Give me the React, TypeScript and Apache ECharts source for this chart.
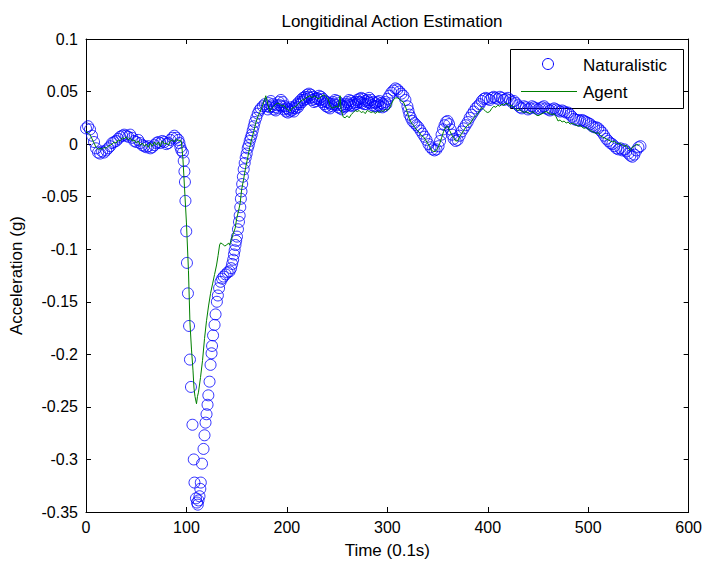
import React, { useEffect, useRef } from "react";
import * as echarts from "echarts";

const titleText = "Longitidinal Action Estimation";
const xLabel = "Time (0.1s)";
const yLabel = "Acceleration (g)";
const seriesNames = ["Naturalistic", "Agent"];
const xTicks = [0, 100, 200, 300, 400, 500, 600];
const yTicks = [-0.35, -0.3, -0.25, -0.2, -0.15, -0.1, -0.05, 0, 0.05, 0.1];

const naturalistic: [number, number][] = [
  [0,0.015],[2,0.017],[4,0.014],[6,0.008],[8,0.002],[10,-0.004],[12,-0.008],[14,-0.009],[16,-0.007],[18,-0.008],
  [20,-0.006],[22,-0.004],[24,-0.002],[26,0.001],[28,0.002],[30,0.003],[32,0.005],[34,0.007],[36,0.008],[38,0.009],
  [40,0.008],[42,0.007],[44,0.009],[46,0.006],[48,0.003],[50,0.002],[52,0.004],[54,0.001],[56,-0.001],[58,-0.002],
  [60,-0.003],[62,-0.002],[64,-0.004],[66,-0.003],[68,-0.001],[70,0.001],[72,0.002],[74,0.001],[76,0.003],[78,0.002],
  [80,0.0],[82,0.001],[84,0.004],[86,0.006],[88,0.008],[90,0.006],[92,0.004],[93,0.001],[94,-0.003],[95,-0.006],
  [96.5,-0.008],[97.3,-0.016],[98,-0.026],[98.5,-0.036],[99,-0.054],[99.8,-0.083],[100.5,-0.113],[101.5,-0.142],
  [102.6,-0.173],[103.5,-0.205],[104.5,-0.231],[106,-0.267],[107.3,-0.3],[108,-0.322],[109.5,-0.337],[110.5,-0.341],
  [111.3,-0.343],[112,-0.339],[113,-0.335],[113.8,-0.328],[114.3,-0.322],[115.5,-0.304],[117,-0.29],[118,-0.277],
  [119,-0.265],[120,-0.257],[121,-0.248],[121.8,-0.239],[123,-0.226],[124,-0.21],[125,-0.199],[125.5,-0.192],
  [126.5,-0.182],[128,-0.172],[129,-0.162],[130.3,-0.15],[131.3,-0.144],[132.5,-0.137],[134,-0.131],[135.5,-0.128],
  [137,-0.126],[139,-0.124],[141,-0.122],[143,-0.121],[144.5,-0.118],[145.5,-0.114],[146.5,-0.11],[147.3,-0.105],
  [148,-0.101],[148.8,-0.096],[149.5,-0.092],[150.3,-0.088],[151.3,-0.081],[152.3,-0.074],[153,-0.068],[153.6,-0.06],
  [154.2,-0.052],[154.8,-0.045],[155.5,-0.038],[156.2,-0.031],[157,-0.024],[158,-0.018],[159,-0.013],[160,-0.009],
  [161,-0.004],[162,-0.001],[163,0.003],[164,0.006],[165,0.009],[166,0.013],[167,0.017],[168,0.021],[169.5,0.025],
  [171,0.029],[172.5,0.032],[174,0.034],[176,0.036],[178,0.038],
  [180,0.036],[182,0.039],[184,0.041],[186,0.038],[188,0.035],[190,0.037],[192,0.04],[194,0.042],[196,0.04],[198,0.036],
  [200,0.034],[202,0.033],[204,0.035],[206,0.034],[208,0.036],[210,0.038],[212,0.04],[214,0.042],[216,0.044],[218,0.045],
  [220,0.047],[222,0.048],[224,0.047],[226,0.045],[228,0.043],[230,0.044],[232,0.046],[234,0.045],[236,0.043],[238,0.041],
  [240,0.04],[242,0.039],[244,0.038],[246,0.04],[248,0.042],[250,0.041],[252,0.039],[254,0.037],[256,0.036],[258,0.038],
  [260,0.04],[262,0.042],[264,0.041],[266,0.039],[268,0.04],[270,0.042],[272,0.043],[274,0.044],[276,0.043],[278,0.041],
  [280,0.042],[282,0.044],[284,0.042],[286,0.04],[288,0.039],[290,0.04],[292,0.041],[294,0.039],[296,0.038],[298,0.04],
  [300,0.043],[302,0.046],[304,0.049],[306,0.051],[308,0.053],[310,0.052],[312,0.05],[314,0.048],[316,0.046],[318,0.042],
  [320,0.036],[321,0.032],[322,0.028],[323.5,0.025],[325,0.022],[327,0.02],[329,0.018],[331,0.016],[333,0.013],[335,0.01],
  [337,0.007],[339,0.004],[341,0.0],[343,-0.003],[345,-0.005],[347,-0.006],[349,-0.005],[351,-0.002],[352.5,0.003],
  [354,0.009],[355.5,0.014],[357,0.018],[358.5,0.021],[360,0.022],[361.5,0.019],[363,0.014],[364.5,0.009],[366,0.005],
  [368,0.003],[370,0.004],[372,0.008],[374,0.012],[376,0.015],[378,0.018],[380,0.021],[382,0.025],[384,0.028],[386,0.031],
  [388,0.034],[390,0.036],[392,0.038],[394,0.041],[396,0.043],[398,0.044],[400,0.043],[402,0.042],[404,0.044],[406,0.045],
  [408,0.044],[410,0.043],[412,0.045],[414,0.044],[416,0.042],[418,0.043],[420,0.044],[422,0.042],[424,0.04],[426,0.041],
  [428,0.039],[430,0.037],[432,0.035],[434,0.034],[436,0.036],[438,0.035],[440,0.033],[442,0.034],[444,0.036],[446,0.035],
  [448,0.034],[450,0.033],[452,0.034],[454,0.035],[456,0.036],[458,0.034],[460,0.033],[462,0.032],[464,0.033],[466,0.034],
  [468,0.033],[470,0.032],[472,0.031],[474,0.032],[476,0.031],[478,0.03],[480,0.03],[482,0.028],[484,0.026],[486,0.024],
  [488,0.023],[490,0.023],[492,0.022],[494,0.023],[496,0.022],[498,0.021],[500,0.02],[502,0.019],[504,0.017],[506,0.016],
  [508,0.016],[510,0.015],[512,0.013],[514,0.011],[516,0.008],[518,0.005],[520,0.003],[522,0.001],[524,0.0],[526,-0.002],
  [528,-0.004],[530,-0.005],[532,-0.004],[534,-0.006],[536,-0.005],[538,-0.007],[540,-0.009],[542,-0.011],[544,-0.012],
  [546,-0.01],[548,-0.006],[550,-0.003],[552,-0.002]
];

// lower edge of the plateau band (odd time steps)
const naturalisticPlateauLow: [number, number][] = [
  [181,0.033],[183,0.035],[185,0.036],[187,0.033],[189,0.032],[191,0.034],[193,0.037],[195,0.036],[197,0.033],[199,0.031],
  [201,0.03],[203,0.031],[205,0.032],[207,0.031],[209,0.034],[211,0.035],[213,0.038],[215,0.04],[217,0.042],[219,0.043],
  [221,0.045],[223,0.044],[225,0.042],[227,0.04],[229,0.041],[231,0.043],[233,0.042],[235,0.04],[237,0.038],[239,0.036],
  [241,0.035],[243,0.034],[245,0.036],[247,0.038],[249,0.037],[251,0.035],[253,0.034],[255,0.033],[257,0.035],[259,0.036],
  [261,0.038],[263,0.037],[265,0.036],[267,0.037],[269,0.038],[271,0.04],[273,0.04],[275,0.039],[277,0.038],[279,0.038],
  [281,0.04],[283,0.039],[285,0.037],[287,0.036],[289,0.036],[291,0.037],[293,0.036],[295,0.035],[297,0.036],[299,0.038]
];

const agent: [number, number][] = [
  [0,0.012],[2,0.011],[4,0.009],[6,0.005],[8,0.001],[10,-0.003],[12,-0.005],[14,-0.004],[16,-0.005],[18,-0.003],
  [20,-0.004],[22,-0.002],[24,-0.001],[26,0.0],[28,0.002],[30,0.001],[32,0.004],[34,0.003],[36,0.006],[38,0.005],
  [40,0.007],[42,0.004],[44,0.006],[46,0.003],[48,0.004],[50,0.001],[52,0.003],[54,-0.001],[56,0.001],[58,-0.002],
  [60,0.0],[62,-0.003],[64,0.001],[66,-0.002],[68,0.002],[70,-0.001],[72,0.002],[74,-0.002],[76,0.003],[78,0.0],
  [80,0.001],[82,-0.001],[84,0.003],[86,0.004],[88,0.002],[90,0.005],[92,0.003],[94,0.004],[95,0.002],[96.5,-0.014],
  [98,-0.04],[100,-0.075],[102,-0.12],[103.5,-0.17],[105,-0.195],[106.5,-0.215],[107.5,-0.232],[108.5,-0.24],[110,-0.247],
  [111,-0.24],[112,-0.236],[114,-0.222],[116,-0.206],[118,-0.185],[120,-0.168],[122,-0.154],[124,-0.142],[126,-0.133],
  [128,-0.124],[130,-0.115],[131.5,-0.106],[133,-0.096],[134,-0.094],[136,-0.095],[138,-0.097],[140,-0.096],[142,-0.094],
  [143,-0.096],[145,-0.09],[147,-0.084],[148.5,-0.08],[150,-0.071],[152,-0.063],[153.5,-0.056],[155,-0.043],[157,-0.033],
  [159,-0.022],[161,-0.013],[163,-0.003],[165,0.005],[167,0.012],[169,0.02],[171,0.026],[173,0.03],[175,0.035],[177,0.04],
  [179,0.046],[181,0.038],[183,0.031],[185,0.034],[187,0.036],[189,0.038],[191,0.039],[193,0.038],[195,0.036],[197,0.037],
  [199,0.034],[201,0.033],[203,0.031],[205,0.034],[207,0.035],[209,0.036],[211,0.038],[213,0.04],[215,0.042],[217,0.042],
  [219,0.044],[221,0.045],[223,0.046],[225,0.044],[227,0.046],[229,0.045],[231,0.043],[233,0.044],[235,0.046],[237,0.047],
  [239,0.045],[241,0.043],[243,0.037],[245,0.034],[247,0.035],[249,0.036],[251,0.035],[253,0.046],[254,0.033],[256,0.026],
  [258,0.025],[260,0.027],[262,0.025],[264,0.028],[266,0.03],[268,0.032],[270,0.031],[272,0.032],[274,0.03],[276,0.031],
  [278,0.029],[280,0.032],[282,0.031],[284,0.03],[286,0.031],[288,0.029],[290,0.031],[292,0.03],[294,0.032],[296,0.031],
  [298,0.033],[300,0.032],[302,0.034],[304,0.038],[306,0.042],[308,0.044],[310,0.044],[312,0.043],[314,0.041],[316,0.04],
  [318,0.036],[320,0.03],[322,0.024],[324,0.02],[326,0.018],[328,0.015],[330,0.013],[332,0.011],[334,0.008],[336,0.007],
  [338,0.004],[340,0.001],[342,-0.002],[344,-0.006],[346,-0.007],[348,-0.007],[350,-0.004],[352,0.0],[354,0.006],[356,0.012],
  [358,0.016],[360,0.017],[362,0.013],[364,0.009],[366,0.006],[368,0.003],[370,0.003],[372,0.007],[374,0.01],[376,0.013],
  [378,0.016],[380,0.018],[382,0.019],[384,0.022],[386,0.025],[388,0.027],[390,0.029],[392,0.032],[394,0.035],[396,0.033],
  [398,0.031],[400,0.03],[402,0.031],[404,0.034],[406,0.036],[408,0.035],[410,0.037],[412,0.036],[414,0.038],[416,0.037],
  [418,0.039],[420,0.038],[422,0.036],[424,0.037],[426,0.035],[428,0.033],[430,0.032],[432,0.033],[434,0.031],[436,0.03],
  [438,0.031],[440,0.03],[442,0.029],[444,0.031],[446,0.03],[448,0.028],[450,0.027],[452,0.028],[454,0.029],[456,0.03],
  [458,0.031],[460,0.03],[462,0.029],[464,0.028],[466,0.029],[468,0.026],[470,0.022],[472,0.023],[474,0.021],[476,0.022],
  [478,0.02],[480,0.021],[482,0.019],[484,0.02],[486,0.019],[488,0.018],[490,0.017],[492,0.018],[494,0.016],[496,0.015],
  [498,0.016],[500,0.014],[502,0.013],[504,0.012],[506,0.011],[508,0.01],[510,0.011],[512,0.008],[514,0.007],[516,0.006],
  [518,0.005],[520,0.004],[522,0.003],[524,0.002],[526,0.003],[528,0.001],[530,0.0],[532,0.001],[534,-0.001],[536,-0.002],
  [538,-0.001],[540,-0.004],[542,-0.006],[544,-0.003],[546,-0.002],[548,0.0],[550,-0.001],[551,0.0]
];

const FONT = "'Liberation Sans', Arial, Helvetica, sans-serif";
const BLUE = "#0000ff";
const GREEN = "#008000";
const TICK_FS = 16;
const LABEL_FS = 17;

export default function App() {
  const ref = useRef<HTMLDivElement>(null);
  useEffect(() => {
    if (!ref.current) return;
    const chart = echarts.init(ref.current, null, { renderer: "svg" });
    const fmtY = (v: number) => {
      const r = Math.round(v * 100) / 100;
      return r === 0 ? "0" : String(r);
    };
    const axisCommon = {
      type: "value" as const,
      axisLine: { show: true, onZero: false, lineStyle: { color: "#000", width: 1 } },
      axisTick: { show: true, inside: true, length: 5, lineStyle: { color: "#000" } },
      splitLine: { show: false },
    };
    chart.setOption({
      animation: false,
      backgroundColor: "#fff",
      title: {
        text: titleText,
        left: 387,
        textAlign: "center",
        top: 8,
        textStyle: { fontFamily: FONT, fontSize: LABEL_FS, fontWeight: "normal", color: "#000" },
      },
      grid: { left: 86, top: 39, right: 16, bottom: 49, containLabel: false },
      xAxis: [
        {
          ...axisCommon,
          min: xTicks[0],
          max: xTicks[xTicks.length - 1],
          interval: 100,
          position: "bottom",
          name: xLabel,
          nameLocation: "middle",
          nameGap: 30,
          nameTextStyle: { fontFamily: FONT, fontSize: LABEL_FS, color: "#000" },
          axisLabel: { fontFamily: FONT, fontSize: TICK_FS, color: "#000", margin: 7 },
        },
        {
          ...axisCommon,
          min: xTicks[0],
          max: xTicks[xTicks.length - 1],
          interval: 100,
          position: "top",
          axisLabel: { show: false },
        },
      ],
      yAxis: [
        {
          ...axisCommon,
          min: yTicks[0],
          max: yTicks[yTicks.length - 1],
          interval: 0.05,
          position: "left",
          name: yLabel,
          nameLocation: "middle",
          nameGap: 61,
          nameRotate: 90,
          nameTextStyle: { fontFamily: FONT, fontSize: LABEL_FS, color: "#000" },
          axisLabel: { fontFamily: FONT, fontSize: TICK_FS, color: "#000", margin: 8, formatter: fmtY },
        },
        {
          ...axisCommon,
          min: yTicks[0],
          max: yTicks[yTicks.length - 1],
          interval: 0.05,
          position: "right",
          axisLabel: { show: false },
        },
      ],
      series: [
        {
          name: seriesNames[0],
          type: "scatter",
          data: [...naturalistic, ...naturalisticPlateauLow],
          symbol: "circle",
          symbolSize: 11,
          itemStyle: { color: "transparent", borderColor: BLUE, borderWidth: 1 },
          xAxisIndex: 0,
          yAxisIndex: 0,
        },
        {
          name: seriesNames[1],
          type: "line",
          data: agent,
          showSymbol: false,
          symbol: "none",
          lineStyle: { color: GREEN, width: 1 },
          xAxisIndex: 0,
          yAxisIndex: 0,
        },
      ],
      graphic: [
        {
          type: "group",
          z: 100,
          children: [
            {
              type: "rect",
              shape: { x: 510.5, y: 49.5, width: 173, height: 59 },
              style: { fill: "#fff", stroke: "#000", lineWidth: 1 },
            },
            {
              type: "circle",
              shape: { cx: 548, cy: 64, r: 5.5 },
              style: { fill: "none", stroke: BLUE, lineWidth: 1 },
            },
            {
              type: "text",
              x: 583,
              y: 65,
              style: { text: seriesNames[0], fontFamily: FONT, fontSize: LABEL_FS, fill: "#000", verticalAlign: "middle" },
            },
            {
              type: "line",
              shape: { x1: 521, y1: 91.5, x2: 577, y2: 91.5 },
              style: { stroke: GREEN, lineWidth: 1 },
            },
            {
              type: "text",
              x: 583,
              y: 92,
              style: { text: seriesNames[1], fontFamily: FONT, fontSize: LABEL_FS, fill: "#000", verticalAlign: "middle" },
            },
          ],
        },
      ],
    });
    return () => chart.dispose();
  }, []);
  return <div ref={ref} style={{ position: "fixed", left: 0, top: 0, width: 705, height: 564 }} />;
}
